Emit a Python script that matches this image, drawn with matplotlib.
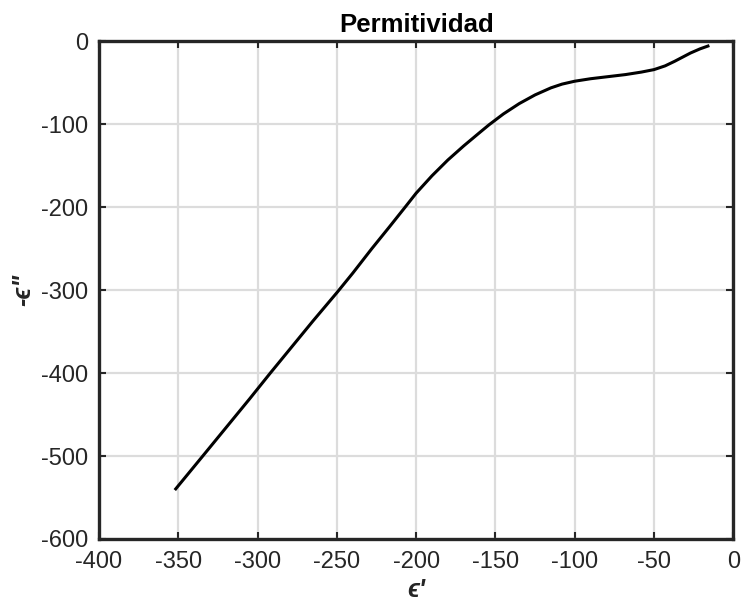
import numpy as np
import matplotlib
matplotlib.use("Agg")
import matplotlib.pyplot as plt

# real part vs. negative imaginary part of the permittivity
eps_real = [-351.6, -335, -320, -305, -292, -280, -265, -250, -240, -228,
            -217, -207, -200, -190, -180, -170, -160, -154, -145, -135,
            -125, -115, -108, -100, -90, -79, -68, -58, -50, -43,
            -37, -32, -27, -21, -16]
eps_imag_neg = [-539.6, -501, -466, -431, -400, -372, -337, -303, -279.5, -250,
                -224, -200, -183, -162, -143, -126, -110, -100.5, -87.5, -75,
                -64.5, -56, -51.5, -48, -45, -42.5, -40, -37, -34, -29.5,
                -24, -19, -14, -9, -5.6]

xticks = np.arange(-400, 1, 50)
yticks = np.arange(-600, 1, 100)

plt.rcParams['font.family'] = ['Liberation Sans', 'DejaVu Sans']
plt.rcParams['axes.unicode_minus'] = False

fig = plt.figure(figsize=(7.41, 6.09), dpi=100)
ax = fig.add_axes([0.1336, 0.115, 0.856, 0.817])

ax.plot(eps_real, eps_imag_neg, color='black', linewidth=2.2)

ax.set_xlim(-400, 0)
ax.set_ylim(-600, 0)
ax.set_xticks(xticks)
ax.set_yticks(yticks)
ax.grid(True, color='#dcdcdc', linewidth=1.6)
ax.set_axisbelow(True)

ax.tick_params(direction='in', length=5, width=1.5, colors='#262626',
               labelsize=17, top=True, right=True, pad=8)
ax.tick_params(axis='x', pad=9)
for s in ax.spines.values():
    s.set_linewidth(2.4)
    s.set_color('#262626')

ax.set_title('Permitividad', fontsize=18.5, fontweight='bold', pad=7)
ax.set_xlabel("\u03f5'", fontsize=18, color='#262626', fontstyle='italic',
              fontweight='bold', labelpad=3)
ax.set_ylabel('-\u03f5"', fontsize=18, color='#262626', fontstyle='italic',
              fontweight='bold', labelpad=4)

fig.savefig('out.png', dpi=100)
